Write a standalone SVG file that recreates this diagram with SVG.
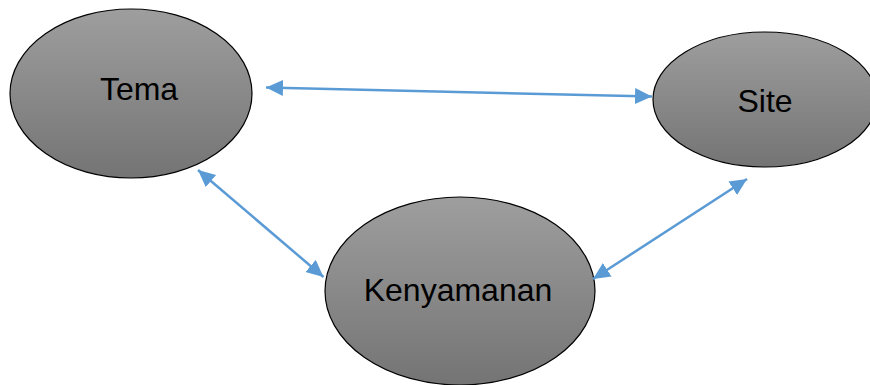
<svg xmlns="http://www.w3.org/2000/svg" width="870" height="385" viewBox="0 0 870 385">
  <style>
    .node { fill: url(#shade); stroke: #000; stroke-width: 1.2; }
    .label { font-family: "Liberation Sans", Arial, sans-serif; font-size: 32px; fill: #000; text-anchor: middle; }
    .link { stroke: #5B9BD5; stroke-width: 2.5; fill: none; marker-start: url(#head); marker-end: url(#head); }
  </style>
  <defs>
    <linearGradient id="shade" x1="0" y1="0" x2="0" y2="1">
      <stop offset="0" stop-color="#9e9e9e"/>
      <stop offset="1" stop-color="#747474"/>
    </linearGradient>
    <marker id="head" markerUnits="userSpaceOnUse" markerWidth="18" markerHeight="18" refX="17" refY="8" orient="auto-start-reverse">
      <path d="M0,0 L17,8 L0,16 z" fill="#5B9BD5"/>
    </marker>
  </defs>

  <g id="tema">
    <ellipse class="node" cx="131" cy="93.5" rx="121" ry="84.5"/>
    <text class="label" x="139" y="99.5">Tema</text>
  </g>
  <g id="site">
    <ellipse class="node" cx="765" cy="99.5" rx="112" ry="67.5"/>
    <text class="label" x="765" y="112">Site</text>
  </g>
  <g id="kenyamanan">
    <ellipse class="node" cx="460" cy="291" rx="135" ry="94"/>
    <text class="label" x="458" y="301">Kenyamanan</text>
  </g>

  <g id="connectors">
    <line class="link" x1="266" y1="87.5" x2="652" y2="96.5"/>
    <line class="link" x1="198" y1="170" x2="323.5" y2="277"/>
    <line class="link" x1="747" y1="179" x2="593" y2="279"/>
  </g>
</svg>
